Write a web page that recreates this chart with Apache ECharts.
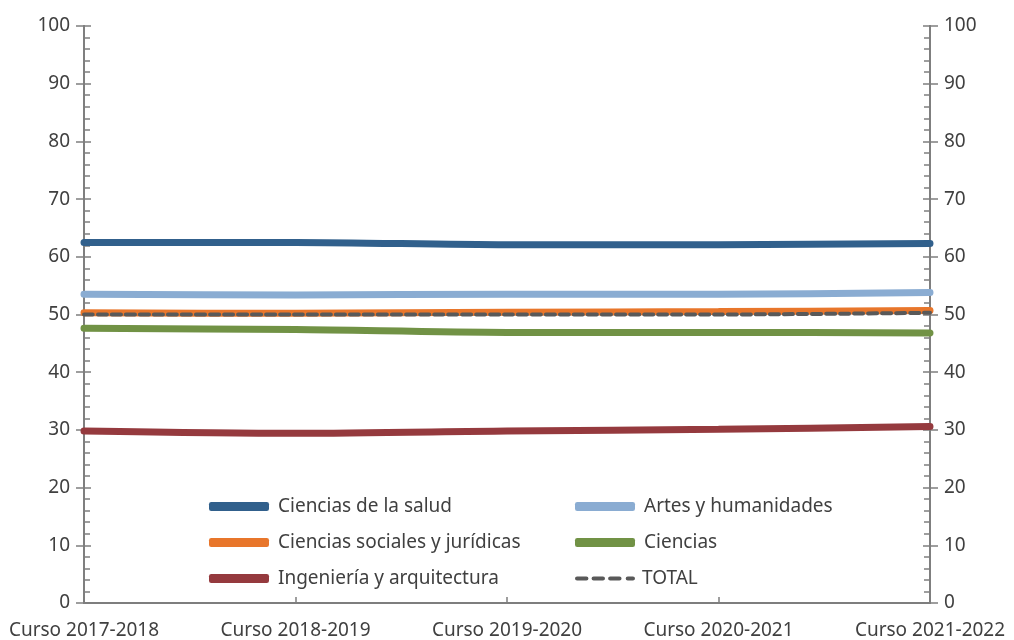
<!DOCTYPE html>
<html><head><meta charset="utf-8">
<script src="https://cdn.jsdelivr.net/npm/echarts@6/dist/echarts.min.js"></script>
<style>html,body{margin:0;padding:0;background:#fff}#c{width:1014px;height:640px}</style>
</head><body><div id="c"></div>
<script>
const categories = ['Curso 2017-2018','Curso 2018-2019','Curso 2019-2020','Curso 2020-2021','Curso 2021-2022'];
const salud = [62.5, 62.5, 62.1, 62.1, 62.3];
const artes = [53.5, 53.4, 53.5, 53.5, 53.8];
const sociales = [50.3, 50.2, 50.4, 50.5, 50.7];
const ciencias = [47.6, 47.4, 46.9, 46.9, 46.8];
const ingenieria = [29.8, 29.4, 29.8, 30.1, 30.6];
const total = [50.0, 50.0, 50.0, 50.0, 50.3];
const yTicks = {min: 0, max: 100, interval: 10};

const font = '"Noto Sans", sans-serif';
const txt = '#404040';
const axisCol = '#7f7f7f';
const FS = 19;

function yAx(pos, labels, inside) {
  return {
    type: 'value', position: pos, min: yTicks.min, max: yTicks.max, interval: yTicks.interval,
    axisLine: {show: true, lineStyle: {color: axisCol, width: 2}},
    axisTick: {show: true, inside: inside, length: inside ? 7 : 8, lineStyle: {color: axisCol, width: 1.5}},
    minorTick: {show: inside, splitNumber: 5, length: 6, lineStyle: {color: axisCol, width: 1.5}},
    axisLabel: {show: labels, color: txt, fontSize: FS, fontFamily: font, margin: 14},
    splitLine: {show: false}
  };
}

const defs = [
  {name: 'Ciencias de la salud', data: salud, color: '#31608c', width: 7, type: 'solid'},
  {name: 'Ciencias sociales y jurídicas', data: sociales, color: '#e8762b', width: 7, type: 'solid'},
  {name: 'Ingeniería y arquitectura', data: ingenieria, color: '#953a3e', width: 7, type: 'solid'},
  {name: 'Artes y humanidades', data: artes, color: '#8aacd2', width: 7, type: 'solid'},
  {name: 'Ciencias', data: ciencias, color: '#719245', width: 7, type: 'solid'},
  {name: 'TOTAL', data: total, color: '#595959', width: 4, type: [9, 5]}
];
const series = defs.map(s => ({
  name: s.name, type: 'line', data: s.data, smooth: 0.3, showSymbol: false, symbol: 'none',
  xAxisIndex: 0, yAxisIndex: 0, z: s.name === 'TOTAL' ? 5 : 3,
  itemStyle: {color: s.color},
  lineStyle: {color: s.color, width: s.width, type: s.type, cap: 'round'}
}));

const dashPath = 'path://M2,0h9a2,2 0 0 1 0,4h-9a2,2 0 0 1 0,-4z M18,0h9a2,2 0 0 1 0,4h-9a2,2 0 0 1 0,-4z M34,0h9a2,2 0 0 1 0,4h-9a2,2 0 0 1 0,-4z M51,0h5a2,2 0 0 1 0,4h-5a2,2 0 0 1 0,-4z';

const legBase = {
  orient: 'vertical', itemWidth: 60, itemHeight: 9, itemGap: 17, icon: 'roundRect',
  textStyle: {color: txt, fontSize: FS, fontFamily: font, padding: [0, 0, 0, 4]},
  selectedMode: false
};

const chart = echarts.init(document.getElementById('c'), null, {renderer: 'canvas'});
chart.setOption({
  animation: false,
  grid: {left: 84, right: 84, top: 26, bottom: 36, containLabel: false},
  legend: [
    Object.assign({}, legBase, {left: 204, top: 492, data: ['Ciencias de la salud', 'Ciencias sociales y jurídicas', 'Ingeniería y arquitectura']}),
    Object.assign({}, legBase, {left: 570, top: 492, data: ['Artes y humanidades', 'Ciencias']}),
    Object.assign({}, legBase, {left: 570, top: 564, itemHeight: 5, icon: dashPath, textStyle: Object.assign({}, legBase.textStyle, {padding: [0, 0, 0, 2]}), data: ['TOTAL']})
  ],
  xAxis: [
    {type: 'category', data: categories, boundaryGap: false, position: 'bottom',
     axisLine: {show: true, lineStyle: {color: axisCol, width: 2}},
     axisTick: {show: true, inside: true, length: 6, alignWithLabel: true, lineStyle: {color: axisCol, width: 1.5}},
     axisLabel: {color: txt, fontSize: FS, fontFamily: font, margin: 18, interval: 0},
     splitLine: {show: false}},
    {type: 'category', data: categories, boundaryGap: false, position: 'top',
     axisLine: {show: true, lineStyle: {color: axisCol, width: 1.5}},
     axisTick: {show: false}, axisLabel: {show: false}, splitLine: {show: false}}
  ],
  yAxis: [
    yAx('left', true, false),
    yAx('right', true, false),
    yAx('left', false, true),
    yAx('right', false, true)
  ],
  series: series
});
</script>
</body></html>
